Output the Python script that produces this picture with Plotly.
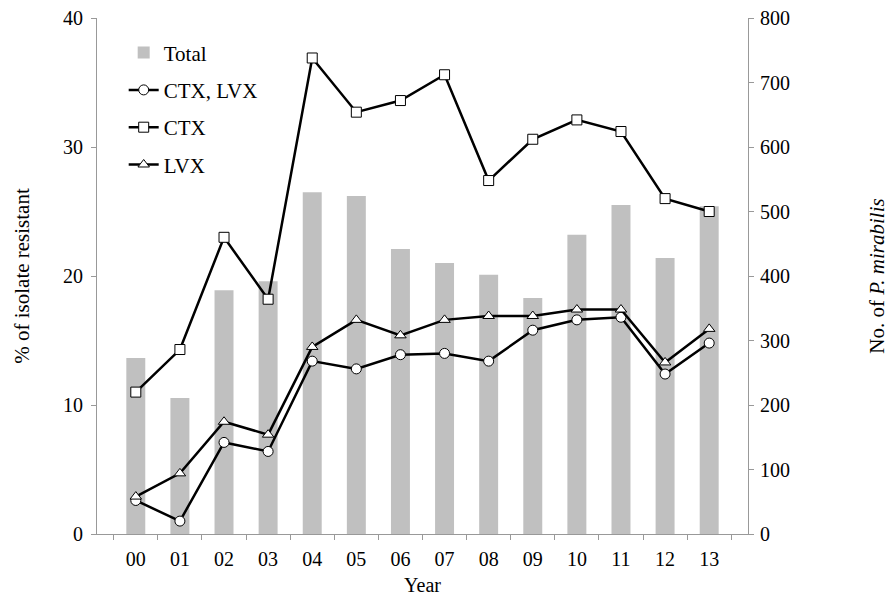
import plotly.graph_objects as go

years = ["00", "01", "02", "03", "04", "05", "06", "07", "08", "09", "10", "11", "12", "13"]
total = [273, 211, 378, 392, 530, 524, 442, 420, 402, 366, 464, 510, 428, 508]
ctx_lvx = [2.6, 1.0, 7.1, 6.4, 13.4, 12.8, 13.9, 14.0, 13.4, 15.8, 16.6, 16.8, 12.4, 14.8]
ctx = [11.0, 14.3, 23.0, 18.2, 36.9, 32.7, 33.6, 35.6, 27.4, 30.6, 32.1, 31.2, 26.0, 25.0]
lvx = [2.9, 4.7, 8.7, 7.7, 14.5, 16.6, 15.4, 16.6, 16.9, 16.9, 17.4, 17.4, 13.3, 15.9]

FONT = "Liberation Serif"
fig = go.Figure()
fig.add_trace(go.Bar(x=years, y=total, name="Total", marker=dict(color="#c0c0c0", line_width=0),
                     width=0.43, yaxis="y", legendgroup="a"))
mk = dict(color="white", size=10, line=dict(color="black", width=1))
for g, (name, vals, sym) in zip("bcd", [("CTX, LVX", ctx_lvx, "circle"), ("CTX", ctx, "square"),
                                         ("LVX", lvx, "triangle-up")]):
    fig.add_trace(go.Scatter(x=years, y=vals, name=name, mode="lines+markers", yaxis="y2",
                             legendgroup=g,
                             line=dict(color="black", width=2.5),
                             marker=dict(mk, symbol=sym)))

axis_common = dict(showline=True, linecolor="#999", linewidth=1, ticks="outside", tickcolor="#999",
                   ticklen=5, showgrid=False, zeroline=False, automargin=False,
                   tickfont=dict(family=FONT, size=20, color="black"))
fig.update_layout(
    width=889, height=601, plot_bgcolor="white", paper_bgcolor="white",
    margin=dict(l=97, r=141, t=18, b=67),
    font=dict(family=FONT, size=21, color="black"),
    xaxis=dict(axis_common, tickson="boundaries", ticklabelstandoff=7,
               title=dict(text="Year", standoff=8, font=dict(family=FONT, size=20))),
    yaxis=dict(axis_common, side="right", range=[0, 800], dtick=100, ticklabelstandoff=2,
               title=dict(text="No. of <i>P. mirabilis</i>", standoff=82, font=dict(family=FONT, size=21))),
    yaxis2=dict(axis_common, side="left", overlaying="y", range=[0, 40], dtick=10, ticklabelstandoff=4,
                title=dict(text="% of isolate resistant", standoff=27, font=dict(family=FONT, size=21))),
    legend=dict(x=0.041, y=0.972, xanchor="left", yanchor="top", bgcolor="rgba(0,0,0,0)",
                traceorder="grouped", tracegroupgap=7,
                font=dict(family=FONT, size=21)),
    showlegend=True, bargap=0.5,
)
fig.write_html("out.html", config={"displayModeBar": False},
               post_script="document.body.style.margin='0';")
